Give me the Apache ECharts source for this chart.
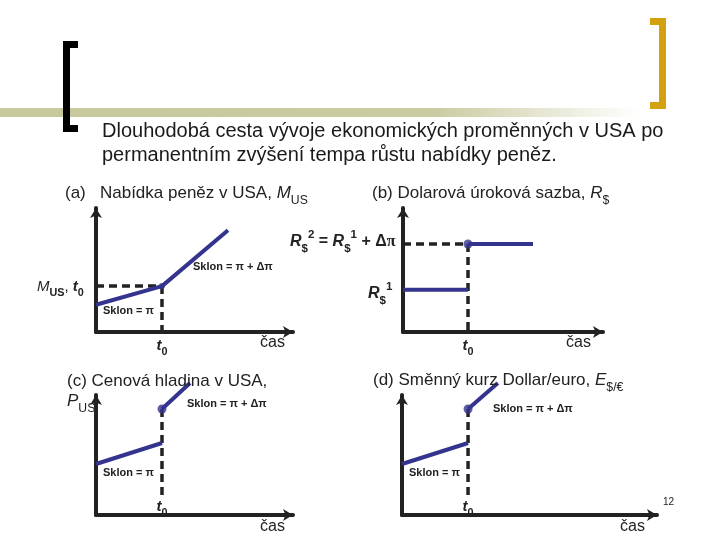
<!DOCTYPE html>
<html><head><meta charset="utf-8">
<script src="https://cdn.jsdelivr.net/npm/echarts@6/dist/echarts.min.js"></script>
<style>html,body{margin:0;padding:0;background:#fff}#c{width:720px;height:540px}</style>
</head><body><div id="c"></div>
<script>
// ---- data (abstract units) ----
// (a) money supply: time, level
const aTime = [0, 3.35, 6.7];
const aMoney = [2.2, 3.7, 8.2];
// (b) dollar interest rate: before / after t0
const bTimeBefore = [0, 3.25];
const bTimeAfter = [3.25, 6.5];
const bRate1 = 3.4;
const bRate2 = 7.1;
// (c) price level
const cTimeBefore = [0, 3.35];
const cPriceBefore = [4.25, 6.0];
const cTimeAfter = [3.35, 4.77];
const cPriceAfter = [8.83, 11.0];
const cDashEnd = 1.4;
// (d) exchange rate $/€
const dTimeBefore = [0, 2.59];
const dRateBefore = [4.25, 6.0];
const dTimeAfter = [2.59, 3.76];
const dRateAfter = [8.83, 11.0];
const dDashEnd = 1.4;

const NAVY = '#34348e';
const INK = '#222222';
const FONT = '"Liberation Sans", Arial, sans-serif';

const zip = (xs, ys) => xs.map((x, i) => [x, ys[i]]);

const chart = echarts.init(document.getElementById('c'), null, {renderer: 'canvas'});

const grids = [
  {left: 96, top: 208, width: 197, height: 124},
  {left: 403, top: 208, width: 200, height: 124},
  {left: 96, top: 395, width: 197, height: 120},
  {left: 402, top: 395, width: 255, height: 120}
];
const axisBase = {
  type: 'value', min: 0, max: 10,
  axisLabel: {show: false}, axisTick: {show: false}, splitLine: {show: false},
  axisLine: {show: true, symbol: ['none', 'arrow'], symbolSize: [9, 10],
    lineStyle: {color: INK, width: 4}}
};
const xAxes = grids.map((g, i) => Object.assign({}, axisBase, {gridIndex: i}));
const yAxes = grids.map((g, i) => Object.assign({}, axisBase, {gridIndex: i}));

function solid(i, data) {
  return {type: 'line', xAxisIndex: i, yAxisIndex: i, data, symbol: 'none', clip: false,
    lineStyle: {color: NAVY, width: 4}, z: 5, silent: true};
}
function dashed(i, data) {
  return {type: 'line', xAxisIndex: i, yAxisIndex: i, data, symbol: 'none', clip: false,
    lineStyle: {color: INK, width: 3.5, type: [8, 5]}, z: 3, silent: true};
}
function dot(i, pt, size) {
  return {type: 'scatter', xAxisIndex: i, yAxisIndex: i, data: [pt], symbolSize: size, clip: false,
    itemStyle: {color: NAVY}, z: 6, silent: true};
}

const series = [
  // (a)
  dashed(0, [[0, aMoney[1]], [aTime[1], aMoney[1]]]),
  dashed(0, [[aTime[1], aMoney[1]], [aTime[1], 0]]),
  solid(0, zip(aTime, aMoney)),
  dot(0, [aTime[1], aMoney[1]], 6),
  // (b)
  dashed(1, [[0, bRate2], [bTimeAfter[0], bRate2]]),
  dashed(1, [[bTimeAfter[0], bRate2], [bTimeAfter[0], 0]]),
  solid(1, bTimeBefore.map(t => [t, bRate1])),
  solid(1, bTimeAfter.map(t => [t, bRate2])),
  dot(1, [bTimeAfter[0], bRate2], 9),
  // (c)
  dashed(2, [[cTimeAfter[0], cPriceAfter[0]], [cTimeAfter[0], cDashEnd]]),
  solid(2, zip(cTimeBefore, cPriceBefore)),
  solid(2, zip(cTimeAfter, cPriceAfter)),
  dot(2, [cTimeAfter[0], cPriceAfter[0]], 9),
  // (d)
  dashed(3, [[dTimeAfter[0], dRateAfter[0]], [dTimeAfter[0], dDashEnd]]),
  solid(3, zip(dTimeBefore, dRateBefore)),
  solid(3, zip(dTimeAfter, dRateAfter)),
  dot(3, [dTimeAfter[0], dRateAfter[0]], 9)
];

function rich(base) {
  const s = base * 0.72;
  return {
    i: {fontStyle: 'italic', fontSize: base, fontFamily: FONT, fill: INK},
    ib: {fontStyle: 'italic', fontWeight: 'bold', fontSize: base, fontFamily: FONT, fill: INK},
    b: {fontWeight: 'bold', fontSize: base, fontFamily: FONT, fill: INK},
    sub: {fontSize: s, fontWeight: 'bold', fontFamily: FONT, fill: INK, verticalAlign: 'bottom', lineHeight: base * 1.6},
    subn: {fontSize: s, fontFamily: FONT, fill: INK, verticalAlign: 'bottom', lineHeight: base * 1.6},
    sup: {fontSize: s, fontWeight: 'bold', fontFamily: FONT, fill: INK, verticalAlign: 'top', lineHeight: base * 1.6},
    pi: {fontFamily: '"Liberation Serif", serif', fontWeight: 'bold', fontSize: base, fill: INK}
  };
}
function T(x, y, text, size, opt) {
  opt = opt || {};
  return {type: 'text', x, y, z: 10, silent: true,
    style: {text, fontSize: size, fontFamily: FONT, fill: INK,
      fontWeight: opt.bold ? 'bold' : 'normal',
      align: opt.align || 'left', verticalAlign: 'middle',
      lineHeight: opt.lh, rich: rich(size)}};
}

const graphic = [
  {type: 'rect', shape: {x: 0, y: 108, width: 640, height: 9}, z: 1,
    style: {fill: new echarts.graphic.LinearGradient(0, 0, 1, 0, [
      {offset: 0, color: '#c8c89d'}, {offset: 0.68, color: '#cbcba2'}, {offset: 1, color: '#ffffff'}])}},
  {type: 'rect', shape: {x: 63, y: 41, width: 7, height: 91}, z: 2, style: {fill: '#000'}},
  {type: 'rect', shape: {x: 63, y: 41, width: 15, height: 7}, z: 2, style: {fill: '#000'}},
  {type: 'rect', shape: {x: 63, y: 125, width: 15, height: 7}, z: 2, style: {fill: '#000'}},
  {type: 'rect', shape: {x: 659, y: 18, width: 7, height: 91}, z: 2, style: {fill: '#d3a00e'}},
  {type: 'rect', shape: {x: 650, y: 18, width: 16, height: 7}, z: 2, style: {fill: '#d3a00e'}},
  {type: 'rect', shape: {x: 650, y: 102, width: 16, height: 7}, z: 2, style: {fill: '#d3a00e'}},
  {type: 'text', x: 102, y: 120, z: 10, silent: true, style: {
    text: 'Dlouhodobá cesta vývoje ekonomických proměnných v USA po\npermanentním zvýšení tempa růstu nabídky peněz.',
    fontSize: 20, lineHeight: 23.5, fontFamily: FONT, fill: '#1a1a1a', verticalAlign: 'top'}},
  // (a)
  T(65, 193, '(a)   Nabídka peněz v USA, {i|M}{subn|US}', 17),
  T(37, 287, '{i|M}{sub|US}, {ib|t}{sub|0}', 15),
  T(193, 267, 'Sklon = π + Δπ', 11, {bold: true}),
  T(103, 311, 'Sklon = π', 11, {bold: true}),
  T(162, 346, '{ib|t}{sub|0}', 15, {align: 'center'}),
  T(260, 343, 'čas', 16),
  // (b)
  T(372, 193, '(b) Dolarová úroková sazba, {i|R}{subn|$}', 17),
  T(290, 242, '{ib|R}{sub|$}{sup|2} = {ib|R}{sub|$}{sup|1} + Δ{pi|π}', 16, {bold: true}),
  T(368, 294, '{ib|R}{sub|$}{sup|1}', 16, {bold: true}),
  T(468, 346, '{ib|t}{sub|0}', 15, {align: 'center'}),
  T(566, 343, 'čas', 16),
  // (c)
  T(67, 381, '(c) Cenová hladina v USA,', 17),
  T(67, 401, '{i|P}{subn|US}', 17),
  T(187, 404, 'Sklon = π + Δπ', 11, {bold: true}),
  T(103, 473, 'Sklon = π', 11, {bold: true}),
  T(162, 507, '{ib|t}{sub|0}', 15, {align: 'center'}),
  T(260, 527, 'čas', 16),
  // (d)
  T(373, 380, '(d) Směnný kurz Dollar/euro, {i|E}{subn|$/€}', 17),
  T(493, 409, 'Sklon = π + Δπ', 11, {bold: true}),
  T(409, 473, 'Sklon = π', 11, {bold: true}),
  T(468, 507, '{ib|t}{sub|0}', 15, {align: 'center'}),
  T(620, 527, 'čas', 16),
  T(663, 502, '12', 10)
];

chart.setOption({
  backgroundColor: '#ffffff',
  animation: false,
  grid: grids,
  xAxis: xAxes,
  yAxis: yAxes,
  series,
  graphic
});
</script></body></html>
